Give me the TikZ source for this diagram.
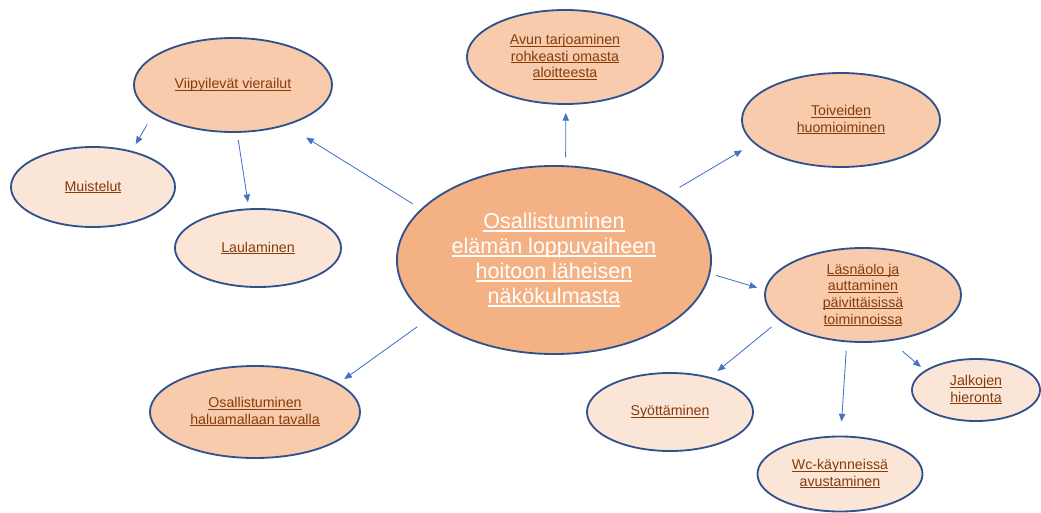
\documentclass[tikz,border=0pt]{standalone}
\usepackage{fontspec}
\setmainfont{Liberation Sans}
\usetikzlibrary{shapes.geometric,arrows.meta}
\definecolor{rim}{HTML}{2F528F}
\definecolor{hubfill}{HTML}{F4B183}
\definecolor{midfill}{HTML}{F8CBAD}
\definecolor{lightfill}{HTML}{FBE5D6}
\definecolor{brn}{HTML}{843C0C}
\definecolor{arrblue}{HTML}{4472C4}
\newcommand\uln[1]{\setbox0\hbox{#1}\leavevmode\rlap{\rule[-0.14em]{\wd0}{0.07em}}\box0}
\tikzset{
  bubble/.style={ellipse, draw=rim, line width=1.3pt, inner sep=0pt, align=center,
    text=brn, font=\fontsize{10.1}{11.8}\selectfont},
  hub/.style={bubble, fill=hubfill, text=white, font=\fontsize{15.3}{17.7}\selectfont},
  topic/.style={bubble, fill=midfill},
  detail/.style={bubble, fill=lightfill},
  link/.style={arrblue, line width=0.6pt, -{Triangle[length=5.5pt,width=4.5pt]}}
}
\begin{document}
\begin{tikzpicture}[x=0.025cm, y=-0.025cm]
      \useasboundingbox (0,0) rectangle (1041,513);
      \node[hub, minimum width=7.85cm, minimum height=4.7cm] (keski) at (554,260)
        {\uln{Osallistuminen}\\\uln{elämän loppuvaiheen}\\\uln{hoitoon läheisen}\\\uln{näkökulmasta}};
      \node[topic, minimum width=4.95cm, minimum height=2.35cm] (vierailut) at (233,85)
        {\uln{Viipyilevät vierailut}};
      \node[detail, minimum width=4.1cm, minimum height=2cm] (muistelut) at (93,187)
        {\uln{Muistelut}};
      \node[detail, minimum width=4.15cm, minimum height=1.95cm] (laulaminen) at (258,248)
        {\uln{Laulaminen}};
      \node[topic, minimum width=4.9cm, minimum height=2.35cm] (avun) at (565,57)
        {\uln{Avun tarjoaminen}\\\uln{rohkeasti omasta}\\\uln{aloitteesta}};
      \node[topic, minimum width=4.95cm, minimum height=2.35cm] (toiveet) at (841,120)
        {\uln{Toiveiden}\\\uln{huomioiminen}};
      \node[topic, minimum width=4.9cm, minimum height=2.35cm] (lasnaolo) at (863,295)
        {\uln{Läsnäolo ja}\\\uln{auttaminen}\\\uln{päivittäisissä}\\\uln{toiminnoissa}};
      \node[detail, minimum width=4.15cm, minimum height=1.95cm] (syottaminen) at (670,412)
        {\uln{Syöttäminen}};
      \node[detail, minimum width=4.125cm, minimum height=1.875cm] (wc) at (840,474)
        {\uln{Wc-käynneissä}\\\uln{avustaminen}};
      \node[detail, minimum width=3.2cm, minimum height=1.55cm] (jalat) at (976,390)
        {\uln{Jalkojen}\\\uln{hieronta}};
      \node[topic, minimum width=5.25cm, minimum height=2.3cm] (tapa) at (255,412)
        {\uln{Osallistuminen}\\\uln{haluamallaan tavalla}};
      \begin{scope}[link]
        \draw[shorten <=6.9pt, shorten >=16.3pt] (keski.159) to (vierailut.-37);
        \draw[shorten <=8.7pt, shorten >=5.5pt] (vierailut.200) to (muistelut.43);
        \draw[shorten <=5pt, shorten >=4.4pt] (vierailut.275) to (laulaminen.103);
        \draw[shorten <=5.9pt, shorten >=5.7pt] (keski.83) to (avun.271);
        \draw[shorten <=9.6pt, shorten >=9.6pt] (keski.30) to (toiveet.195);
        \draw[shorten <=4.3pt, shorten >=5.5pt] (keski.-5) to (lasnaolo.177);
        \draw[shorten <=7.1pt, shorten >=6.6pt] (lasnaolo.197) to (syottaminen.41);
        \draw[shorten <=6.1pt, shorten >=10pt] (lasnaolo.251) to (wc.89);
        \draw[shorten <=11.1pt, shorten >=3.7pt] (lasnaolo.301) to (jalat.159);
        \draw[shorten <=10.4pt, shorten >=4.9pt] (keski.205) to (tapa.19);
      \end{scope}
    \end{tikzpicture}
\end{document}
